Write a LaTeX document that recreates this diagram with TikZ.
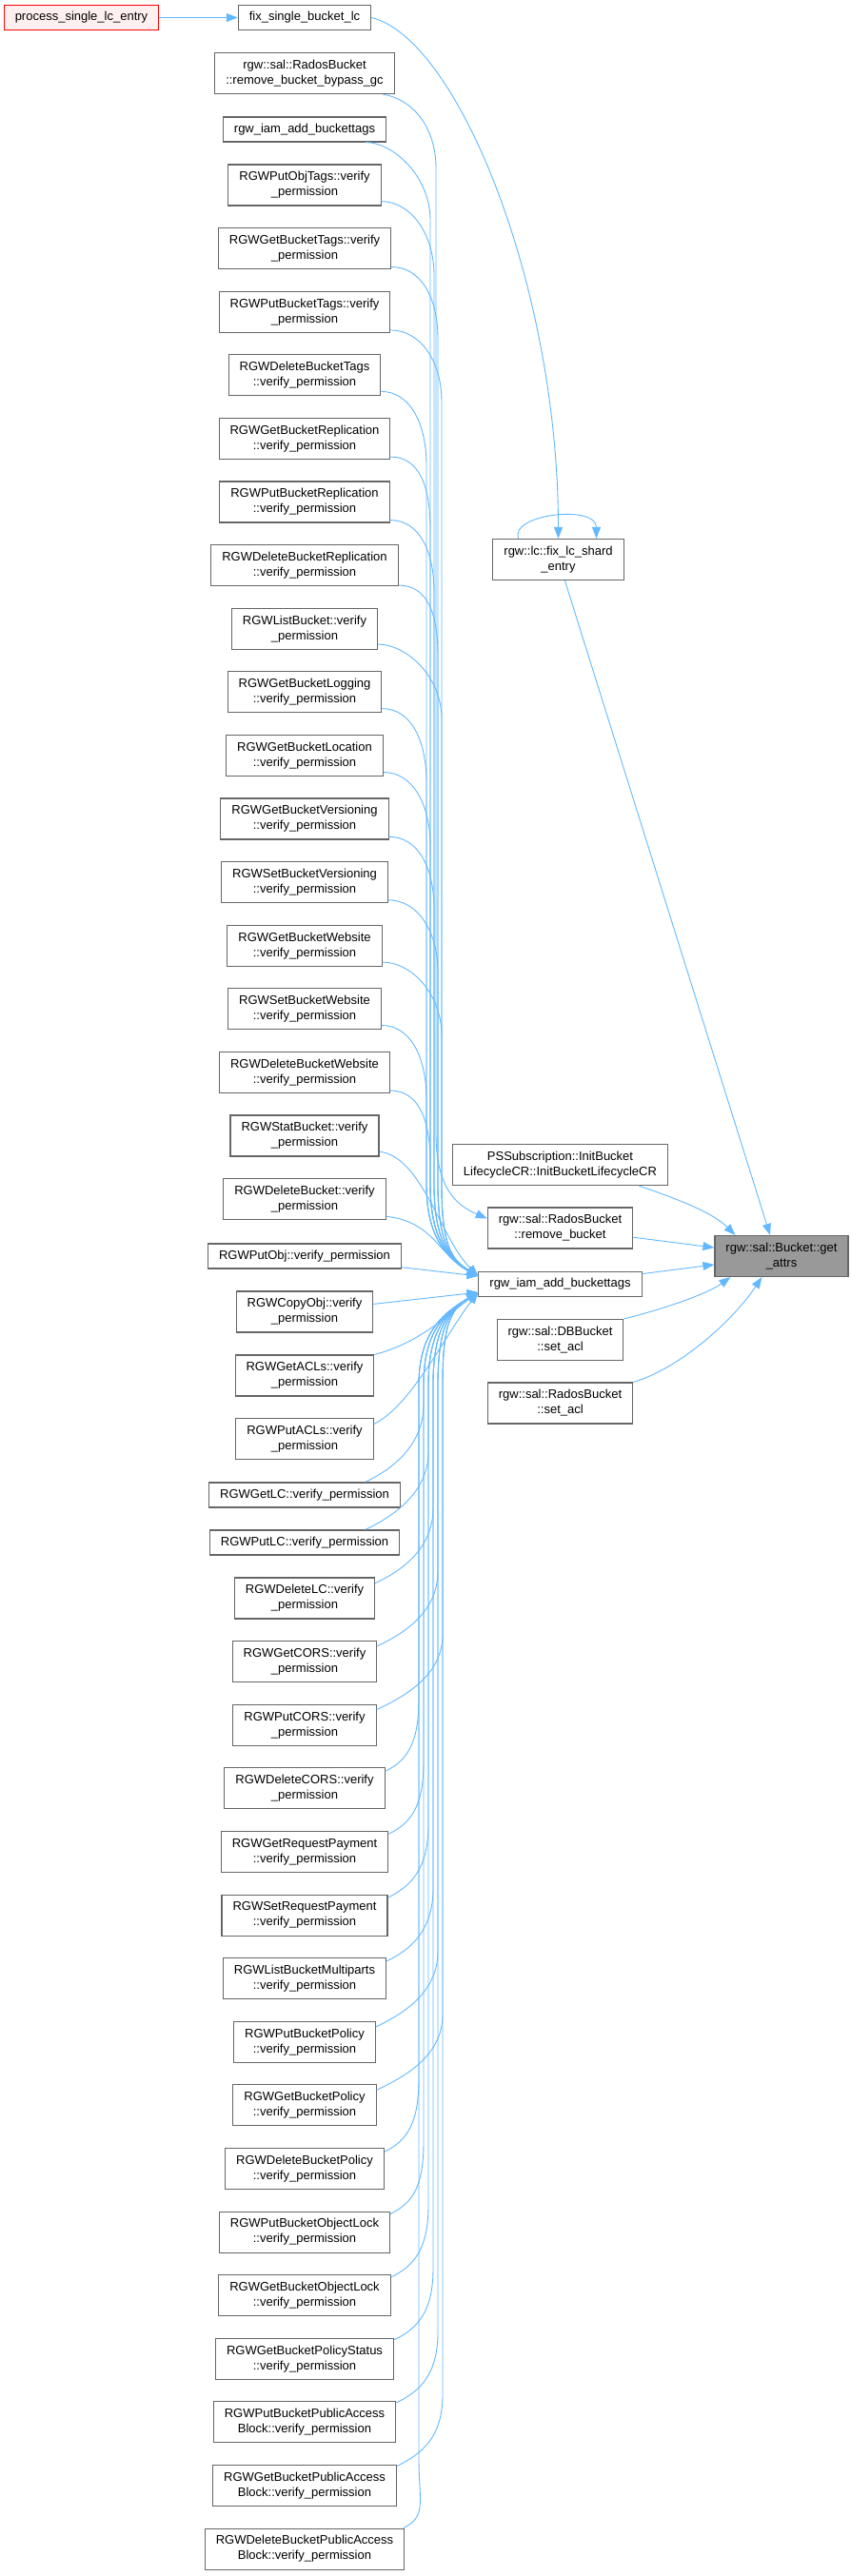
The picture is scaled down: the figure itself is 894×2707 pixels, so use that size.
\documentclass[tikz,border=0pt]{standalone}
\usepackage{fontspec}
\setmainfont{Liberation Sans}
\usepackage{xcolor}
\usetikzlibrary{arrows.meta,calc}
\definecolor{edgeblue}{HTML}{63B8FF}
\definecolor{boxgray}{HTML}{666666}
\definecolor{focusgray}{HTML}{999999}
\definecolor{startpink}{HTML}{FFF0F0}

\begin{document}
\begin{tikzpicture}[
  x=1pt, y=-1pt,
  fn/.style={rectangle, draw=boxgray, fill=white, line width=1.1pt, inner xsep=11.5pt, inner ysep=0pt, minimum height=26pt, align=center, font=\fontsize{13}{16}\selectfont},
  fntwo/.style={fn, minimum height=43pt},
  startfn/.style={fn, draw=red, fill=startpink},
  focusfn/.style={fntwo, fill=focusgray},
  edge/.style={-{Triangle[length=12pt,width=9pt]}, draw=edgeblue, line width=0.9pt}
]
  \useasboundingbox (0,0) rectangle (894,2707);
  % callers, far left and first column
  \node[startfn] (proc) at (85.5,18.5) {process\_single\_lc\_entry};
  \node[fn] (fixsingle) at (320,18.5) {fix\_single\_bucket\_lc};
  \node[fntwo] (bypass) at (320,77) {rgw::sal::RadosBucket\\::remove\_bucket\_bypass\_gc};
  \node[fn] (tagsA) at (320,136) {rgw\_iam\_add\_buckettags};
  \node[fntwo] (objtagsP) at (320,194.5) {RGWPutObjTags::verify\\\_permission};
  \node[fntwo] (btagsG) at (320,261.1) {RGWGetBucketTags::verify\\\_permission};
  \node[fntwo] (btagsP) at (320,327.7) {RGWPutBucketTags::verify\\\_permission};
  \node[fntwo] (btagsD) at (320,394.3) {RGWDeleteBucketTags\\::verify\_permission};
  \node[fntwo] (replG) at (320,460.9) {RGWGetBucketReplication\\::verify\_permission};
  \node[fntwo] (replP) at (320,527.5) {RGWPutBucketReplication\\::verify\_permission};
  \node[fntwo] (replD) at (320,594.1) {RGWDeleteBucketReplication\\::verify\_permission};
  \node[fntwo] (listb) at (320,660.7) {RGWListBucket::verify\\\_permission};
  \node[fntwo] (loggingG) at (320,727.3) {RGWGetBucketLogging\\::verify\_permission};
  \node[fntwo] (locationG) at (320,793.9) {RGWGetBucketLocation\\::verify\_permission};
  \node[fntwo] (versG) at (320,860.5) {RGWGetBucketVersioning\\::verify\_permission};
  \node[fntwo] (versS) at (320,927.1) {RGWSetBucketVersioning\\::verify\_permission};
  \node[fntwo] (webG) at (320,993.7) {RGWGetBucketWebsite\\::verify\_permission};
  \node[fntwo] (webS) at (320,1060.3) {RGWSetBucketWebsite\\::verify\_permission};
  \node[fntwo] (webD) at (320,1126.9) {RGWDeleteBucketWebsite\\::verify\_permission};
  \node[fntwo] (statb) at (320,1193.5) {RGWStatBucket::verify\\\_permission};
  \node[fntwo] (delb) at (320,1260.1) {RGWDeleteBucket::verify\\\_permission};
  \node[fn] (putobj) at (320,1320) {RGWPutObj::verify\_permission};
  \node[fntwo] (copyobj) at (320,1378.5) {RGWCopyObj::verify\\\_permission};
  \node[fntwo] (aclsG) at (320,1445.5) {RGWGetACLs::verify\\\_permission};
  \node[fntwo] (aclsP) at (320,1512) {RGWPutACLs::verify\\\_permission};
  \node[fn] (lcG) at (320,1571) {RGWGetLC::verify\_permission};
  \node[fn] (lcP) at (320,1621) {RGWPutLC::verify\_permission};
  \node[fntwo] (lcD) at (320,1679.5) {RGWDeleteLC::verify\\\_permission};
  \node[fntwo] (corsG) at (320,1746) {RGWGetCORS::verify\\\_permission};
  \node[fntwo] (corsP) at (320,1812.7) {RGWPutCORS::verify\\\_permission};
  \node[fntwo] (corsD) at (320,1879.3) {RGWDeleteCORS::verify\\\_permission};
  \node[fntwo] (payG) at (320,1946) {RGWGetRequestPayment\\::verify\_permission};
  \node[fntwo] (payS) at (320,2012.6) {RGWSetRequestPayment\\::verify\_permission};
  \node[fntwo] (multip) at (320,2079.2) {RGWListBucketMultiparts\\::verify\_permission};
  \node[fntwo] (polP) at (320,2145.8) {RGWPutBucketPolicy\\::verify\_permission};
  \node[fntwo] (polG) at (320,2212.4) {RGWGetBucketPolicy\\::verify\_permission};
  \node[fntwo] (polD) at (320,2279) {RGWDeleteBucketPolicy\\::verify\_permission};
  \node[fntwo] (lockP) at (320,2345.6) {RGWPutBucketObjectLock\\::verify\_permission};
  \node[fntwo] (lockG) at (320,2412.2) {RGWGetBucketObjectLock\\::verify\_permission};
  \node[fntwo] (polstat) at (320,2478.8) {RGWGetBucketPolicyStatus\\::verify\_permission};
  \node[fntwo] (pabP) at (320,2545.4) {RGWPutBucketPublicAccess\\Block::verify\_permission};
  \node[fntwo] (pabG) at (320,2612) {RGWGetBucketPublicAccess\\Block::verify\_permission};
  \node[fntwo] (pabD) at (320,2678.6) {RGWDeleteBucketPublicAccess\\Block::verify\_permission};
  % second column and the function itself
  \node[fntwo] (shard) at (586.5,588) {rgw::lc::fix\_lc\_shard\\\_entry};
  \node[fntwo] (ps) at (588.5,1224) {PSSubscription::InitBucket\\LifecycleCR::InitBucketLifecycleCR};
  \node[fntwo] (rmb) at (588.5,1290.5) {rgw::sal::RadosBucket\\::remove\_bucket};
  \node[fn] (iam) at (588.5,1349.5) {rgw\_iam\_add\_buckettags};
  \node[fntwo] (dbb) at (588.5,1408) {rgw::sal::DBBucket\\::set\_acl};
  \node[fntwo] (rsa) at (588.5,1474.5) {rgw::sal::RadosBucket\\::set\_acl};
  \node[focusfn] (attrs) at (821,1320) {rgw::sal::Bucket::get\\\_attrs};
  \coordinate (bandU) at (448,0);
  \coordinate (bandD) at (440,0);

  \draw[edge] (proc) -- (fixsingle);
  \draw[edge] (fixsingle.east) .. controls (480,40) and (586.5,300) .. (shard.north);
  \draw[edge] ([xshift=-42pt]shard.north) .. controls +(-9,-26) and +(0,-36) .. ([xshift=40pt]shard.north);
  \draw[edge] (shard) -- ([xshift=-12pt]attrs.north);
  \draw[edge] ([xshift=-31pt]ps.south east) .. controls +(35,12) and +(-25,-25) .. ([xshift=22pt]attrs.north west);
  \draw[edge] (rmb) -- (attrs);
  \draw[edge] (iam) -- (attrs);
  \draw[edge] (dbb.north east) .. controls +(40,-10) and +(-25,18) .. ([xshift=17pt]attrs.south west);
  \draw[edge] (rsa.north east) .. controls +(50,-15) and +(-30,45) .. ([xshift=50pt]attrs.south west);
  \draw[edge] (bypass.345) .. controls +(30,5) and +(0,-45) .. ($(bandU |- bypass.east)+(10,100)$)
    -- ($(bandU |- rmb.west)+(10,-100)$) .. controls +(0,55) and +(-35,-15) .. ([yshift=10pt]rmb.west);
  % bundle from above
  \foreach \n [count=\i, evaluate=\i as \dx using {mod(\i,5)*4}] in {tagsA,objtagsP,btagsG,btagsP,btagsD,replG,replP,replD,listb,loggingG,locationG,versG,versS,webG,webS,webD}
    \draw[edge] (\n.348) .. controls +(30,0) and +(0,-45) .. ($(bandU |- \n.east)+(\dx,95)$)
      -- ($(bandU |- iam.west)+(\dx,-105)$) .. controls +(0,60) and +(-30,-18) .. ([yshift=-5pt]iam.north west);
  \draw[edge] (statb.348) .. controls +(45,5) and +(-40,-40) .. ([yshift=-5pt]iam.north west);
  \draw[edge] (delb.348) .. controls +(50,5) and +(-40,-20) .. ([yshift=-5pt]iam.north west);
  \draw[edge] (putobj) -- ([yshift=-5pt]iam.north west);
  \draw[edge] (copyobj) -- ([yshift=5pt]iam.south west);
  \draw[edge] (aclsG.north east) .. controls +(45,-12) and +(-40,30) .. ([yshift=5pt]iam.south west);
  \draw[edge] (aclsP.12) .. controls +(40,-20) and +(-35,45) .. ([yshift=5pt]iam.south west);
  % bundle from below
  \foreach \n [count=\i, evaluate=\i as \dx using {mod(\i,6)*5}] in {lcG,lcP,lcD,corsG,corsP,corsD,payG,payS,multip,polP,polG,polD,lockP,lockG,polstat,pabP,pabG,pabD}
    \draw[edge] (\n.12) .. controls +(25,-12) and +(0,45) .. ($(bandD |- \n.east)+(\dx,-95)$)
      -- ($(bandD |- iam.west)+(\dx,105)$) .. controls +(0,-60) and +(-30,18) .. ([yshift=5pt]iam.south west);
\end{tikzpicture}
\end{document}
